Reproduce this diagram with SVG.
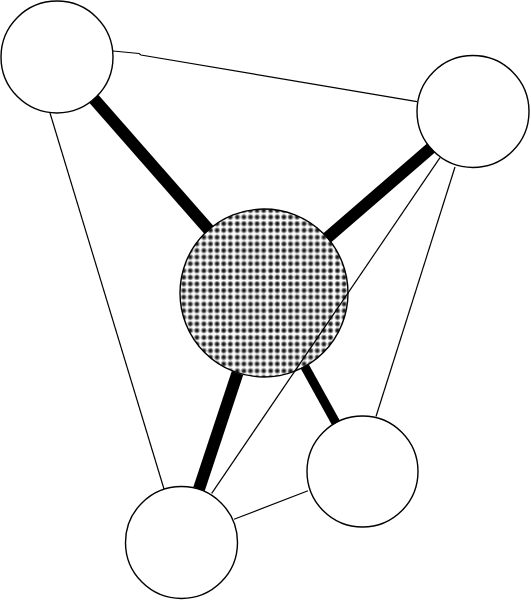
<svg xmlns="http://www.w3.org/2000/svg" width="531" height="600" viewBox="0 0 531 600">
<defs>
<radialGradient id="dotg">
<stop offset="0" stop-color="#000"/>
<stop offset="0.4" stop-color="#333"/>
<stop offset="0.75" stop-color="#aaa"/>
<stop offset="1" stop-color="#fff"/>
</radialGradient>
<pattern id="dots" x="0" y="0" width="33.4" height="33.4" patternUnits="userSpaceOnUse">
<rect width="33.4" height="33.4" fill="#fff"/>
<g fill="url(#dotg)">
<circle cx="3.5" cy="3.5" r="3.4"/><circle cx="10.1" cy="3.5" r="3.4"/><circle cx="16.7" cy="3.5" r="3.4"/><circle cx="23.3" cy="3.5" r="3.4"/><circle cx="29.9" cy="3.5" r="3.4"/>
<circle cx="3.5" cy="10.1" r="3.4"/><circle cx="10.1" cy="10.1" r="3.4"/><circle cx="16.7" cy="10.1" r="3.4"/><circle cx="23.3" cy="10.1" r="3.4"/><circle cx="29.9" cy="10.1" r="3.4"/>
<circle cx="3.5" cy="16.7" r="3.4"/><circle cx="10.1" cy="16.7" r="3.4"/><circle cx="16.7" cy="16.7" r="3.4"/><circle cx="23.3" cy="16.7" r="3.4"/><circle cx="29.9" cy="16.7" r="3.4"/>
<circle cx="3.5" cy="23.3" r="3.4"/><circle cx="10.1" cy="23.3" r="3.4"/><circle cx="16.7" cy="23.3" r="3.4"/><circle cx="23.3" cy="23.3" r="3.4"/><circle cx="29.9" cy="23.3" r="3.4"/>
<circle cx="3.5" cy="29.9" r="3.4"/><circle cx="10.1" cy="29.9" r="3.4"/><circle cx="16.7" cy="29.9" r="3.4"/><circle cx="23.3" cy="29.9" r="3.4"/><circle cx="29.9" cy="29.9" r="3.4"/>
</g>
</pattern>
</defs>
<style>
.node{fill:#fff;stroke:#000;stroke-width:1.4}
.thin{stroke:#000;stroke-width:1.2;fill:none}
.thick{stroke:#000;stroke-width:12;fill:none}
</style>
<g id="nodes">
<g id="n-tl"><circle class="node" cx="57" cy="57" r="56"/></g>
<g id="n-tr"><circle class="node" cx="473" cy="111.5" r="56"/></g>
<g id="n-bl"><circle class="node" cx="181.5" cy="542.5" r="56"/></g>
<g id="n-br"><circle class="node" cx="362.5" cy="471.5" r="55.5"/></g>
<g id="n-c"><circle class="node" cx="264" cy="293" r="84" style="fill:url(#dots)"/></g>
</g>
<g id="connectors">
<path class="thin" d="M113,51 L139,53.5 L141,55 L417,101.7"/>
<line class="thin" x1="50" y1="113" x2="164" y2="489"/>
<line class="thin" x1="440" y1="157.7" x2="211.7" y2="493.3"/>
<line class="thin" x1="455" y1="167" x2="376" y2="416.5"/>
<line class="thin" x1="234" y1="519.3" x2="308" y2="490.7"/>
<line class="thick" x1="94" y1="99" x2="209" y2="230"/>
<line class="thick" x1="431" y1="148" x2="327" y2="238"/>
<line class="thick" x1="237.5" y1="373" x2="199" y2="489"/>
<line class="thick" x1="304.5" y1="366" x2="336" y2="423" style="stroke-width:9"/>
</g>
</svg>
